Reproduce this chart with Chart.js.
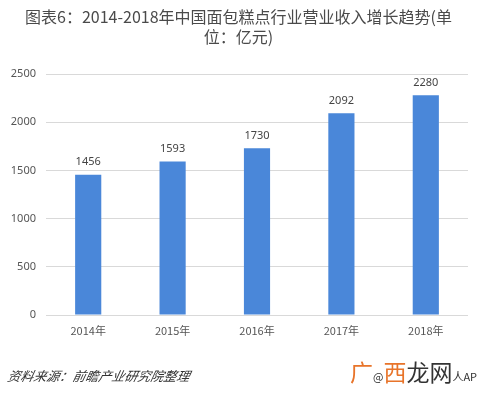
<!DOCTYPE html>
<html><head><meta charset="utf-8">
<script src="https://cdn.jsdelivr.net/npm/chart.js@4"></script>
<style>
html,body{margin:0;padding:0;background:#fff;width:477px;height:396px;overflow:hidden;font-family:"Noto Sans CJK SC","Noto Sans",sans-serif;}
#wrap{position:absolute;left:0;top:0;width:477px;height:396px;}
#title{position:absolute;left:0;top:6px;width:477px;text-align:center;font-size:16px;line-height:20px;color:#4a4a4a;}
#src{position:absolute;left:8px;top:366px;font-size:13px;font-style:italic;color:#333;transform:skewX(-12deg);}
#wm{position:absolute;left:350px;top:354px;font-size:23px;color:#333;white-space:nowrap;}
</style></head>
<body>
<div id="wrap"><canvas id="c" width="477" height="396"></canvas></div>
<div id="title">图表6：2014-2018年中国面包糕点行业营业收入增长趋势(单<br>位：亿元)</div>
<div id="src">资料来源：前瞻产业研究院整理</div>
<div id="wm"><span style="color:#e8742a">广</span><span style="font-size:11px">@</span><span style="color:#e8742a">西</span>龙网<span style="font-size:11px">人APP</span></div>
<script>
const categories = ["2014年","2015年","2016年","2017年","2018年"];
const revenue = [1456, 1593, 1730, 2092, 2280];
const yTicks = [0, 500, 1000, 1500, 2000, 2500];

const labelPlugin = {
  id: 'vals',
  afterDatasetsDraw(chart) {
    const ctx = chart.ctx;
    const meta = chart.getDatasetMeta(0);
    ctx.save();
    ctx.font = '11px "Noto Sans", "DejaVu Sans", sans-serif';
    ctx.fillStyle = '#444';
    ctx.textAlign = 'center';
    ctx.textBaseline = 'bottom';
    meta.data.forEach((bar, i) => {
      ctx.fillText(String(revenue[i]), bar.x, bar.y - 7);
    });
    ctx.restore();
  }
};

new Chart(document.getElementById('c'), {
  type: 'bar',
  data: {
    labels: categories,
    datasets: [{
      data: revenue,
      backgroundColor: '#4a87d9',
      categoryPercentage: 1.0,
      barPercentage: 0.31
    }]
  },
  options: {
    responsive: false,
    animation: false,
    events: [],
    layout: { padding: { top: 74, right: 9, left: 0, bottom: 0 } },
    plugins: { legend: { display: false }, tooltip: { enabled: false }, title: { display: false } },
    scales: {
      x: {
        grid: { display: false, drawTicks: false },
        border: { display: false },
        ticks: { color: '#555', font: { size: 11, family: '"Noto Sans CJK SC", sans-serif' }, padding: 9 },
        afterFit(s) { s.height = 81; }
      },
      y: {
        min: 0, max: 2500,
        afterBuildTicks(s) { s.ticks = yTicks.map(v => ({ value: v })); },
        grid: { color: '#d9d9d9', drawTicks: false, lineWidth: 1 },
        border: { display: false },
        ticks: { color: '#555', font: { size: 11, family: '"Noto Sans", sans-serif' }, padding: 10,
                 callback: (v) => String(v) },
        afterFit(s) { s.width = 46; }
      }
    }
  },
  plugins: [labelPlugin]
});
</script>
</body></html>
